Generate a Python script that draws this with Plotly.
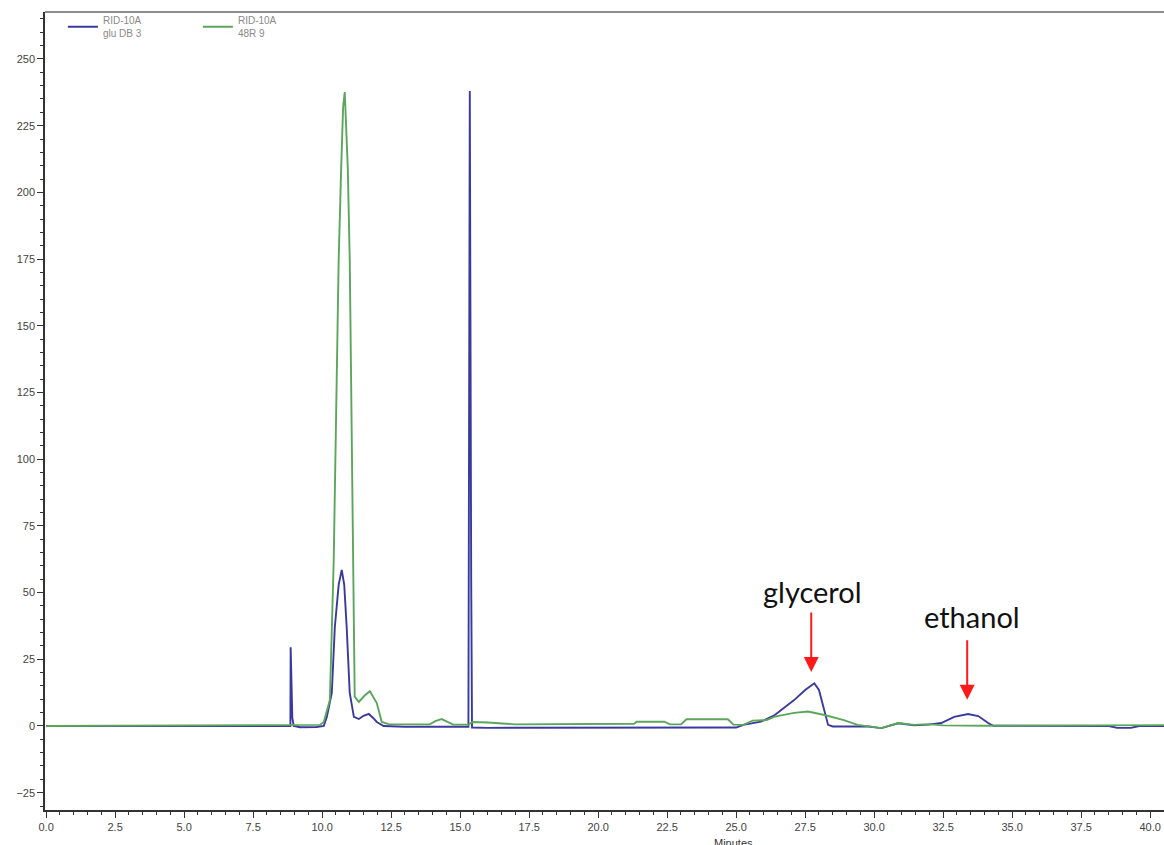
import plotly.graph_objects as go

# Refractive-index detector (RID-10A) chromatograms, signal vs retention time (min)
glu_time = [0.0, 8.0, 8.85, 8.86, 8.92, 8.97, 9.2, 9.8, 10.06, 10.17, 10.35, 10.46, 10.60, 10.71,
            10.80, 10.89, 11.0, 11.15, 11.33, 11.5, 11.69, 11.85, 11.98, 12.23, 13.0, 15.30,
            15.35, 15.40, 15.43, 16.0, 21.0, 25.0, 25.26, 25.9, 26.4, 27.1, 27.5, 27.83, 28.0,
            28.2, 28.33, 28.5, 29.8, 30.26, 30.87, 31.45, 31.96, 32.43, 32.9, 33.4, 33.77,
            34.13, 34.3, 38.5, 38.8, 39.3, 39.6, 40.5]
glu_signal = [0.0, 0.0, 0.0, 29.5, 3.0, 0.0, -0.5, -0.4, 0.0, 3.4, 12.4, 37.0, 53.0, 58.5,
              53.0, 37.0, 12.4, 3.4, 2.6, 3.8, 4.5, 3.0, 1.5, 0.0, -0.3, -0.3,
              238.0, 56.0, -0.6, -0.7, -0.6, -0.6, 0.4, 1.6, 4.1, 9.7, 13.5, 16.0, 13.5,
              4.9, 0.4, -0.2, -0.2, -0.8, 1.0, 0.2, 0.5, 1.1, 3.4, 4.5, 3.7,
              1.1, 0.1, 0.0, -0.7, -0.7, 0.0, 0.0]

r48_time = [0.0, 8.0, 9.7, 9.92, 10.06, 10.28, 10.42, 10.60, 10.69, 10.76, 10.82, 10.87, 10.93,
            11.0, 11.13, 11.18, 11.33, 11.55, 11.73, 11.98, 12.16, 12.41, 13.9, 14.1, 14.33,
            14.55, 14.75, 15.3, 15.45, 16.0, 17.0, 21.3, 21.4, 22.4, 22.6, 23.0, 23.2, 24.7,
            24.9, 25.26, 25.6, 26.1, 26.4, 27.1, 27.6, 28.2, 28.9, 29.4, 29.8, 30.26, 30.87,
            31.45, 31.96, 32.5, 34.0, 38.5, 39.5, 40.5]
r48_signal = [0.0, 0.2, 0.2, 0.4, 1.5, 9.7, 62.0, 175.0, 209.0, 232.0, 237.6, 225.0, 209.0,
              175.0, 62.0, 11.0, 9.0, 11.5, 13.0, 8.6, 1.5, 0.7, 0.6, 1.8, 2.6,
              1.5, 0.5, 0.5, 1.5, 1.3, 0.6, 0.8, 1.6, 1.6, 0.6, 0.6, 2.5, 2.5,
              0.5, 0.4, 2.0, 2.2, 3.5, 4.9, 5.4, 4.1, 2.2, 0.4, -0.2, -0.8, 1.1,
              0.4, 0.7, 0.2, 0.1, 0.2, 0.3, 0.3]

series_names = ["RID-10A<br>glu DB 3", "RID-10A<br>48R 9"]
series_colors = ["#3a3a9e", "#5ca65c"]

# Peak labels: (name, retention time of arrow tip, signal at arrow tip)
peak_labels = ["glycerol", "ethanol"]
peak_times = [27.72, 33.37]
peak_tips = [20.2, 9.8]

x_ticks = [i * 2.5 for i in range(17)]
y_ticks = [i * 25 for i in range(-1, 11)]

fig = go.Figure()
fig.add_trace(go.Scatter(x=glu_time, y=glu_signal, mode="lines", name=series_names[0],
                         line=dict(color=series_colors[0], width=1.9)))
fig.add_trace(go.Scatter(x=r48_time, y=r48_signal, mode="lines", name=series_names[1],
                         line=dict(color=series_colors[1], width=1.9)))

tick_font = dict(family="Liberation Sans, Arial, sans-serif", size=11, color="#444444")

fig.update_xaxes(range=[-0.04, 40.5], tickvals=x_ticks,
                 ticktext=[f"{v:.1f}" for v in x_ticks],
                 showgrid=False, zeroline=False, showline=True, linecolor="#333333",
                 linewidth=1.5, ticks="outside", ticklen=6, tickcolor="#333333",
                 tickfont=tick_font,
                 minor=dict(dtick=0.5, ticks="outside", ticklen=3, tickcolor="#333333"))
fig.update_yaxes(range=[-31.5, 267.6], tickvals=y_ticks,
                 showgrid=False, zeroline=False, showline=True, linecolor="#333333",
                 linewidth=1.5, ticks="outside", ticklen=6, tickcolor="#333333",
                 tickfont=tick_font,
                 minor=dict(dtick=5, ticks="outside", ticklen=3, tickcolor="#333333"))

# top frame line
fig.add_shape(type="line", xref="paper", yref="paper", x0=0, x1=1, y0=1, y1=1,
              line=dict(color="#8c8c8c", width=2))

# x-axis title
fig.add_annotation(text="Minutes", xref="paper", yref="paper", x=0.615, y=-0.031,
                   xanchor="center", yanchor="top", showarrow=False,
                   font=dict(family="Liberation Sans, Arial, sans-serif", size=11, color="#333333"))

label_y = [50.5, 41.0]
label_dx = [0.05, 0.17]
for name, t, tip, ly, dx in zip(peak_labels, peak_times, peak_tips, label_y, label_dx):
    fig.add_annotation(x=t, y=tip, xref="x", yref="y", text="", showarrow=True,
                       arrowhead=2, arrowsize=1.5, arrowwidth=2, arrowcolor="#ff1a1a",
                       ax=0, ay=-61, standoff=0)
    fig.add_annotation(x=t + dx, y=ly, xref="x", yref="y", text=name, showarrow=False,
                       xanchor="center", yanchor="middle",
                       font=dict(family="Lato, Calibri, sans-serif", size=29, color="#111111"))

fig.update_layout(
    width=1164, height=845,
    margin=dict(l=45, r=0, t=12, b=35),
    paper_bgcolor="white", plot_bgcolor="white",
    showlegend=True,
    legend=dict(orientation="h", x=0.016, y=1.006, xanchor="left", yanchor="top",
                entrywidth=90, entrywidthmode="pixels",
                font=dict(family="Liberation Sans, Arial, sans-serif", size=10, color="#8a8a8a"),
                bgcolor="rgba(0,0,0,0)"),
)

fig.write_html("out.html")
